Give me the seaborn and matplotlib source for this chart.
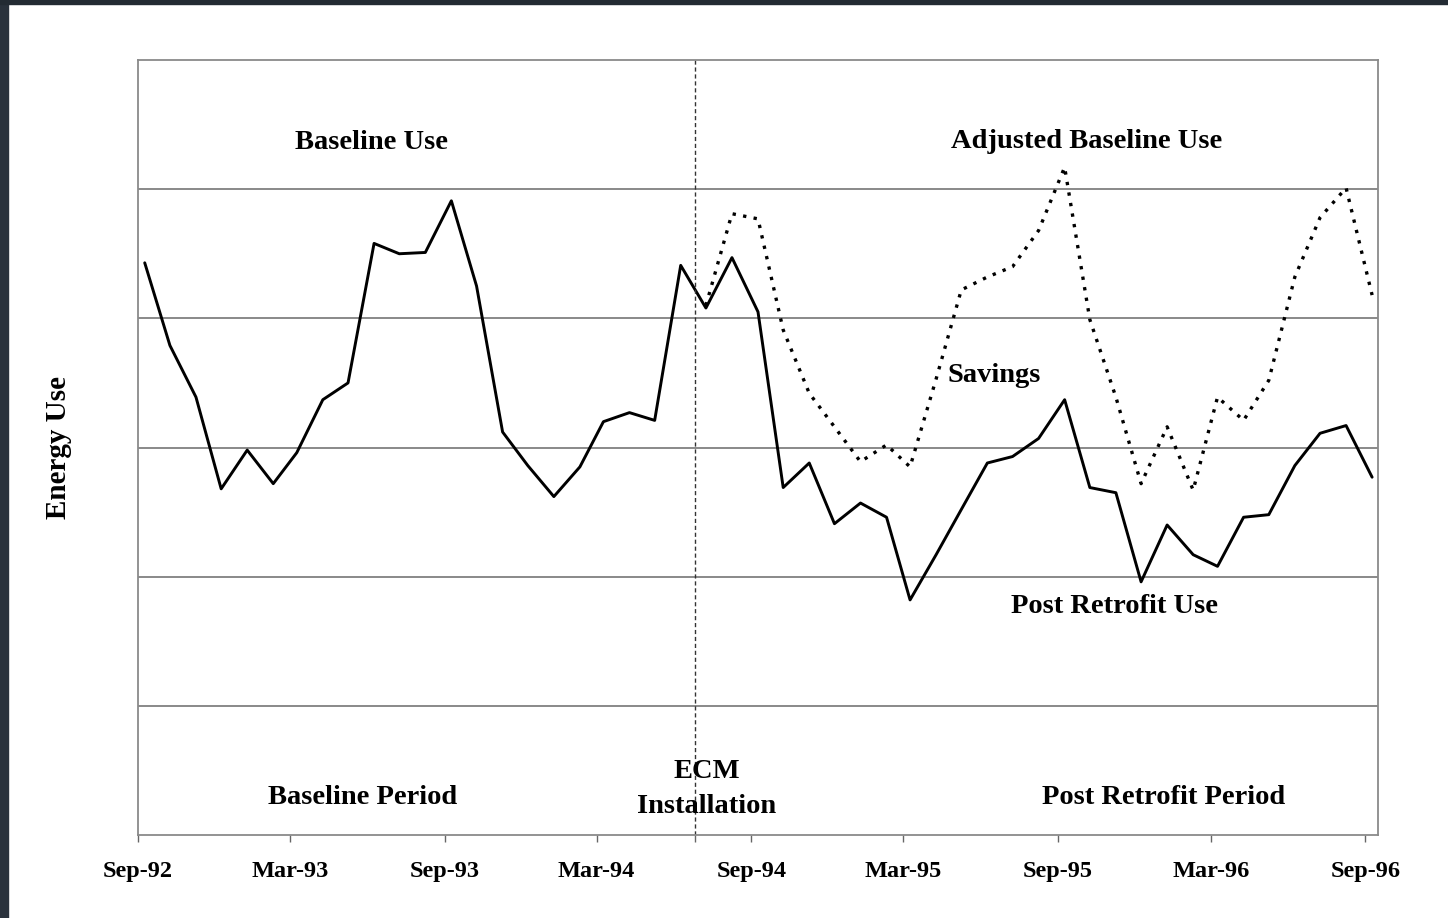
import numpy as np
import pandas as pd
import matplotlib
matplotlib.use("Agg")
import matplotlib.pyplot as plt
import matplotlib.dates as mdates
from matplotlib.patches import Rectangle
import seaborn as sns

# monthly meter readings, Sep-92 .. Sep-96
dates = pd.date_range("1992-09-01", periods=49, freq="MS") + pd.Timedelta(days=8)

# actual energy use (baseline period, then post retrofit)
energy_use = [4.43, 3.79, 3.39, 2.68, 2.98, 2.72, 2.96, 3.37, 3.50, 4.58,
              4.50, 4.51, 4.91, 4.25, 3.12, 2.86, 2.62, 2.85, 3.20, 3.27,
              3.21, 4.41, 4.08, 4.47, 4.05, 2.69, 2.88, 2.41, 2.57, 2.46,
              1.82, 2.17, 2.52, 2.88, 2.93, 3.07, 3.37, 2.69, 2.65, 1.96,
              2.40, 2.17, 2.08, 2.46, 2.48, 2.86, 3.11, 3.17, 2.77]

# adjusted baseline starts at the 23rd reading (index 22)
adj_start = 22
adjusted_baseline = [4.10, 4.81, 4.77, 3.91, 3.42, 3.16, 2.89, 3.02, 2.85,
                     3.53, 4.22, 4.32, 4.40, 4.68, 5.17, 3.99, 3.39, 2.72,
                     3.16, 2.67, 3.39, 3.21, 3.52, 4.32, 4.78, 5.01, 4.18]

ecm_date = pd.Timestamp("1994-06-26")

df_use = pd.DataFrame({"date": dates, "use": energy_use})
df_adj = pd.DataFrame({"date": dates[adj_start:], "use": adjusted_baseline})

sns.set_style("white")
plt.rcParams["font.family"] = ["Liberation Serif", "DejaVu Serif"]
plt.rcParams["font.weight"] = "bold"
plt.rcParams["text.color"] = "black"
plt.rcParams["axes.labelcolor"] = "black"
plt.rcParams["xtick.color"] = "black"

fig = plt.figure(figsize=(14.48, 9.18), dpi=100)
ax = fig.add_axes([138 / 1448, 83 / 918, 1240 / 1448, 775 / 918])

sns.lineplot(data=df_use, x="date", y="use", ax=ax, color="black", lw=2.1)
sns.lineplot(data=df_adj, x="date", y="use", ax=ax, color="black", lw=2.4,
             linestyle=(0, (1, 2.2)))

ax.axvline(ecm_date, color="#333333", lw=1.0, linestyle=(0, (3, 2)))

ax.set_ylim(0, 6)
ax.set_yticks([1, 2, 3, 4, 5])
ax.set_yticklabels([])
ax.tick_params(axis="y", length=0)
ax.grid(True, axis="y", color="#808080", lw=1.3)

ax.set_xlim(pd.Timestamp("1992-09-01"), pd.Timestamp("1996-09-16"))
ax.xaxis.set_major_locator(mdates.MonthLocator(bymonth=[3, 9]))
ax.xaxis.set_major_formatter(mdates.DateFormatter("%b-%y"))
ax.set_xticks([mdates.date2num(ecm_date)], minor=True)
ax.tick_params(axis="x", which="both", direction="out", length=5, width=1,
               color="#666666", labelcolor="black", pad=14, labelsize=17.5,
               bottom=True)
for lab in ax.get_xticklabels():
    lab.set_fontweight("bold")

for s in ax.spines.values():
    s.set_color("#8a8a8a")
    s.set_linewidth(1.3)

ax.set_xlabel("")
ax.set_ylabel("Energy Use", fontsize=21, fontweight="bold")
ax.yaxis.set_label_coords(-0.053, 0.5)

def mx(px):
    return mdates.num2date(mdates.date2num(pd.Timestamp("1992-09-01")) + (px - 138) / 25.54 * 30.44)

def my(py):
    return (835 - py) / 129.2

txt = dict(fontsize=20.5, fontweight="bold", ha="center", va="center")
ax.text(mx(371), my(142), "Baseline Use", **txt)
ax.text(mx(1085), my(141), "Adjusted Baseline Use", **txt)
ax.text(mx(946), my(375), "Savings", fontsize=20.5, fontweight="bold", ha="left", va="center")
ax.text(mx(1113), my(606), "Post Retrofit Use", **txt)
ax.text(mx(362), my(797), "Baseline Period", **txt)
ax.text(mx(1162), my(797), "Post Retrofit Period", **txt)
ax.text(mx(706), my(789), "ECM\nInstallation", linespacing=1.5, **txt)

# dark screenshot frame on left and top
fig.patches.append(Rectangle((0, 0), 8 / 1448, 1, transform=fig.transFigure,
                             color="#2a323c", zorder=10))
fig.patches.append(Rectangle((0, 1 - 4 / 918), 1, 4 / 918, transform=fig.transFigure,
                             color="#232b33", zorder=10))

fig.savefig("out.png", dpi=100)
